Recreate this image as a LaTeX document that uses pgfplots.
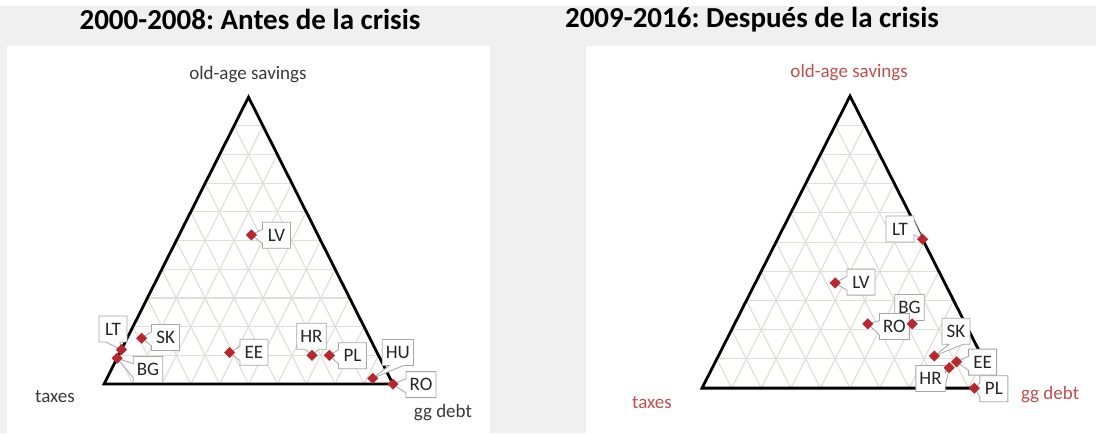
\documentclass[border=0pt]{standalone}
\usepackage{fontspec}
\setmainfont{Carlito}
\usepackage{pgfplots}
\pgfplotsset{compat=1.18}
\usepackage{pgfplotstable}
\usetikzlibrary{shapes.callouts}
\frenchspacing

\definecolor{bggray}{HTML}{F0F0F0}
\definecolor{gridc}{HTML}{E2DED5}
\definecolor{mk}{HTML}{B8272F}
\definecolor{lblred}{HTML}{C0504D}
\definecolor{lbldark}{HTML}{3A3A3A}

% shares: taxes, gg debt, old-age savings
\pgfplotstableread{
tax   debt  sav   cc
0.23  0.25  0.52  LV
0.88  0.00  0.12  LT
0.91  0.00  0.09  BG
0.79  0.05  0.16  SK
0.51  0.38  0.11  EE
0.23  0.67  0.10  HR
0.17  0.73  0.10  PL
0.06  0.92  0.02  HU
0.00  1.00  0.00  RO
}\before

\pgfplotstableread{
tax   debt  sav   cc
0.00  0.49  0.51  LT
0.37  0.27  0.36  LV
0.18  0.60  0.22  BG
0.33  0.45  0.22  RO
0.16  0.73  0.11  SK
0.095 0.815 0.09  EE
0.13  0.80  0.07  HR
0.08  0.92  0.00  PL
}\after

\pgfplotsset{
  tern/.style={scale only axis, hide axis, clip=false, height=193.5pt},
  terngrid/.style={gridc, line width=0.55pt, unbounded coords=jump},
  ternmarks/.style={only marks, mark=square*, mark size=1.75pt, color=mk,
    mark options={rotate=45}},
}
\tikzset{
  lbl/.style={rectangle callout, draw=gray!70, fill=white, line width=0.4pt,
    font=\fontsize{9.5}{10}\selectfont, text=black!85, inner sep=1.8pt,
    minimum height=13pt, minimum width=14pt},
  axl/.style={font=\fontsize{9.5}{10}\selectfont},
}

% grid of the triangle, 10 steps each way
\newcommand{\terngrid}{%
  \addplot[terngrid] coordinates {
    (0.05,0.1)(0.95,0.1) (nan,nan) (0.1,0.2)(0.9,0.2) (nan,nan)
    (0.15,0.3)(0.85,0.3) (nan,nan) (0.2,0.4)(0.8,0.4) (nan,nan)
    (0.25,0.5)(0.75,0.5) (nan,nan) (0.3,0.6)(0.7,0.6) (nan,nan)
    (0.35,0.7)(0.65,0.7) (nan,nan) (0.4,0.8)(0.6,0.8) (nan,nan)
    (0.45,0.9)(0.55,0.9)};
  \addplot[terngrid] coordinates {
    (0.1,0)(0.55,0.9) (nan,nan) (0.2,0)(0.6,0.8) (nan,nan)
    (0.3,0)(0.65,0.7) (nan,nan) (0.4,0)(0.7,0.6) (nan,nan)
    (0.5,0)(0.75,0.5) (nan,nan) (0.6,0)(0.8,0.4) (nan,nan)
    (0.7,0)(0.85,0.3) (nan,nan) (0.8,0)(0.9,0.2) (nan,nan)
    (0.9,0)(0.95,0.1)};
  \addplot[terngrid] coordinates {
    (0.1,0)(0.05,0.1) (nan,nan) (0.2,0)(0.1,0.2) (nan,nan)
    (0.3,0)(0.15,0.3) (nan,nan) (0.4,0)(0.2,0.4) (nan,nan)
    (0.5,0)(0.25,0.5) (nan,nan) (0.6,0)(0.3,0.6) (nan,nan)
    (0.7,0)(0.35,0.7) (nan,nan) (0.8,0)(0.4,0.8) (nan,nan)
    (0.9,0)(0.45,0.9)};
  \addplot[black, line width=1.4pt, line join=miter] coordinates {(0,0)(1,0)(0.5,1)} -- cycle;
}

\begin{document}
\begin{tikzpicture}[x=0.5pt, y=0.5pt]
\fill[bggray] (0,0) rectangle (1096,427);
\fill[white] (7,0) rectangle (490,387);
\fill[white] (586,0) rectangle (1096,387);
\node[font=\bfseries\fontsize{14.5}{16}\selectfont] at (250,414) {2000-2008: Antes de la crisis};
\node[font=\bfseries\fontsize{14.5}{16}\selectfont] at (752,414) {2009-2016: Después de la crisis};

% ---- before the crisis
\begin{axis}[tern, at={(3.5pt,0pt)}, anchor=south west, width=241.5pt,
  xmin=-0.336, xmax=1.336, ymin=-0.171, ymax=1.178]
  \terngrid
  \addplot[ternmarks]
    table[x expr=\thisrow{debt}+0.5*\thisrow{sav}, y expr=\thisrow{sav}] {\before};
  \node[lbl, callout absolute pointer={(axis cs:0.51,0.52)}] at (axis cs:0.597,0.519) {LV};
  \node[lbl, callout absolute pointer={(axis cs:0.06,0.12)}] at (axis cs:0.031,0.192) {LT};
  \node[lbl, callout absolute pointer={(axis cs:0.045,0.09)}] at (axis cs:0.152,0.051) {BG};
  \node[lbl, callout absolute pointer={(axis cs:0.13,0.16)}] at (axis cs:0.213,0.162) {SK};
  \node[lbl, callout absolute pointer={(axis cs:0.435,0.11)}] at (axis cs:0.519,0.111) {EE};
  \node[lbl, callout absolute pointer={(axis cs:0.72,0.10)}] at (axis cs:0.718,0.167) {HR};
  \node[lbl, callout absolute pointer={(axis cs:0.78,0.10)}] at (axis cs:0.860,0.099) {PL};
  \node[lbl, callout absolute pointer={(axis cs:0.93,0.02)}] at (axis cs:1.017,0.110) {HU};
  \node[lbl, callout absolute pointer={(axis cs:1.0,0.0)}] at (axis cs:1.097,-0.002) {RO};
  \node[axl, text=lbldark] at (axis cs:0.498,1.08) {old-age savings};
  \node[axl, text=lbldark] at (axis cs:-0.17,-0.045) {taxes};
  \node[axl, text=lbldark] at (axis cs:1.173,-0.101) {gg debt};
\end{axis}

% ---- after the crisis
\begin{axis}[tern, at={(293pt,0pt)}, anchor=south west, width=255pt,
  xmin=-0.392, xmax=1.331, ymin=-0.154, ymax=1.171]
  \terngrid
  \addplot[ternmarks]
    table[x expr=\thisrow{debt}+0.5*\thisrow{sav}, y expr=\thisrow{sav}] {\after};
  \node[lbl, callout absolute pointer={(axis cs:0.745,0.51)}] at (axis cs:0.669,0.545) {LT};
  \node[lbl, callout absolute pointer={(axis cs:0.45,0.36)}] at (axis cs:0.537,0.363) {LV};
  \node[lbl, callout absolute pointer={(axis cs:0.71,0.22)}] at (axis cs:0.701,0.276) {BG};
  \node[lbl, callout absolute pointer={(axis cs:0.56,0.22)}] at (axis cs:0.650,0.211) {RO};
  \node[lbl, callout absolute pointer={(axis cs:0.785,0.11)}] at (axis cs:0.858,0.195) {SK};
  \node[lbl, callout absolute pointer={(axis cs:0.86,0.09)}] at (axis cs:0.948,0.089) {EE};
  \node[lbl, callout absolute pointer={(axis cs:0.835,0.07)}] at (axis cs:0.772,0.033) {HR};
  \node[lbl, callout absolute pointer={(axis cs:0.92,0.0)}] at (axis cs:0.986,-0.002) {PL};
  \node[axl, text=lblred] at (axis cs:0.497,1.079) {old-age savings};
  \node[axl, text=lblred] at (axis cs:-0.169,-0.048) {taxes};
  \node[axl, text=lblred] at (axis cs:1.176,-0.021) {gg debt};
\end{axis}
\end{tikzpicture}
\end{document}
